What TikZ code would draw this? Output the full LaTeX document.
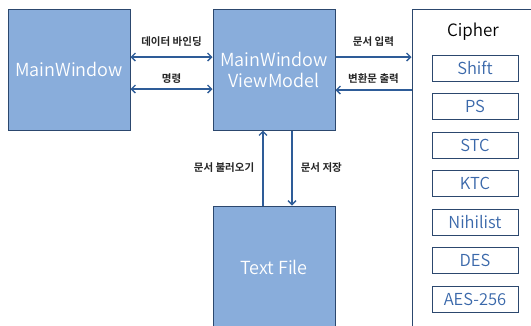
\documentclass[tikz,border=0pt]{standalone}
\usepackage{fontspec}
\setmainfont{Noto Sans CJK KR}[BoldFont={Noto Sans CJK KR Bold}]
\newfontfamily\lightfont{Noto Sans CJK KR DemiLight}
\usepackage{tikz}
\usetikzlibrary{positioning}
\usetikzlibrary{arrows.meta}

\definecolor{boxfill}{RGB}{137,173,219}
\definecolor{boxline}{RGB}{44,72,110}
\definecolor{arrowcol}{RGB}{46,92,152}
\definecolor{algotext}{RGB}{58,104,170}

\begin{document}
\begin{tikzpicture}[x=1pt, y=-1pt,
    block/.style={draw=boxline, line width=1pt, fill=boxfill, text=white, font=\lightfont\fontsize{18}{21}\selectfont, align=center, inner sep=0pt, minimum width=122pt},
    algo/.style={draw=boxline, line width=1pt, fill=white, text=algotext, minimum width=86pt, minimum height=26pt, inner sep=0pt, font=\lightfont\fontsize{16.5}{18}\selectfont},
    link/.style={draw=arrowcol, line width=1.6pt, -{Straight Barb[length=4pt, width=8pt, line width=1.4pt]}},
    both/.style={link, {Straight Barb[length=4pt, width=8pt, line width=1.4pt]}-{Straight Barb[length=4pt, width=8pt, line width=1.4pt]}},
    lbl/.style={font=\bfseries\fontsize{10.5}{12}\selectfont, text=black!85, inner sep=0pt}]
            \clip (0,0) rectangle (531,325);
            \fill[white] (0,0) rectangle (531,325);

            % Vista y modelo de vista
            \node[block, minimum height=121pt] (mw) at (69, 69.5) {MainWindow};
            \node[block, minimum height=121pt] (vm) at (274, 69.5) {MainWindow\\ViewModel};

            % Archivo de texto (sale por abajo)
            \node[block, minimum height=122pt] (tf) at (274, 267) {Text File};

            % Caja de cifrados
            \node[draw=boxline, line width=1pt, fill=white, minimum width=133pt, minimum height=336pt] (cipher) at (478.5, 177) {};
            \node[font=\lightfont\fontsize{17}{19}\selectfont] (ctitle) at (473, 32) {Cipher};
            \node[algo] (shift) at (475, 68) {Shift};
            \node[algo, below=11.5pt of shift] (ps) {PS};
            \node[algo, below=11.5pt of ps] (stc) {STC};
            \node[algo, below=11.5pt of stc] (ktc) {KTC};
            \node[algo, below=11.5pt of ktc] (nihilist) {Nihilist};
            \node[algo, below=11.5pt of nihilist] (des) {DES};
            \node[algo, below=11.5pt of des] (aes) {AES-256};

            % Flechas entre vista y modelo
            \draw[both] ([yshift=12.5pt]mw.east) -- ([yshift=12.5pt]vm.west) node[lbl, midway, above=10pt] {데이터 바인딩};
            \draw[both] ([yshift=-19.5pt]mw.east) -- ([yshift=-19.5pt]vm.west) node[lbl, midway, above=5pt] {명령};

            % Flechas hacia y desde Cipher
            \draw[link] ([yshift=12.5pt]vm.east) -- ([yshift=12.5pt]vm.east -| cipher.west) node[lbl, midway, above=10pt] {문서 입력};
            \draw[link] ([yshift=-20.5pt]vm.east -| cipher.west) -- ([yshift=-20.5pt]vm.east) node[lbl, midway, above=6pt] {변환문 출력};

            % Flechas con el archivo
            \draw[link] ([xshift=-11pt]tf.north) -- ([xshift=-11pt]vm.south) node[lbl, midway, left=8pt] {문서 불러오기};
            \draw[link] ([xshift=18pt]vm.south) -- ([xshift=18pt]tf.north) node[lbl, midway, right=8pt] {문서 저장};
        \end{tikzpicture}
\end{document}
